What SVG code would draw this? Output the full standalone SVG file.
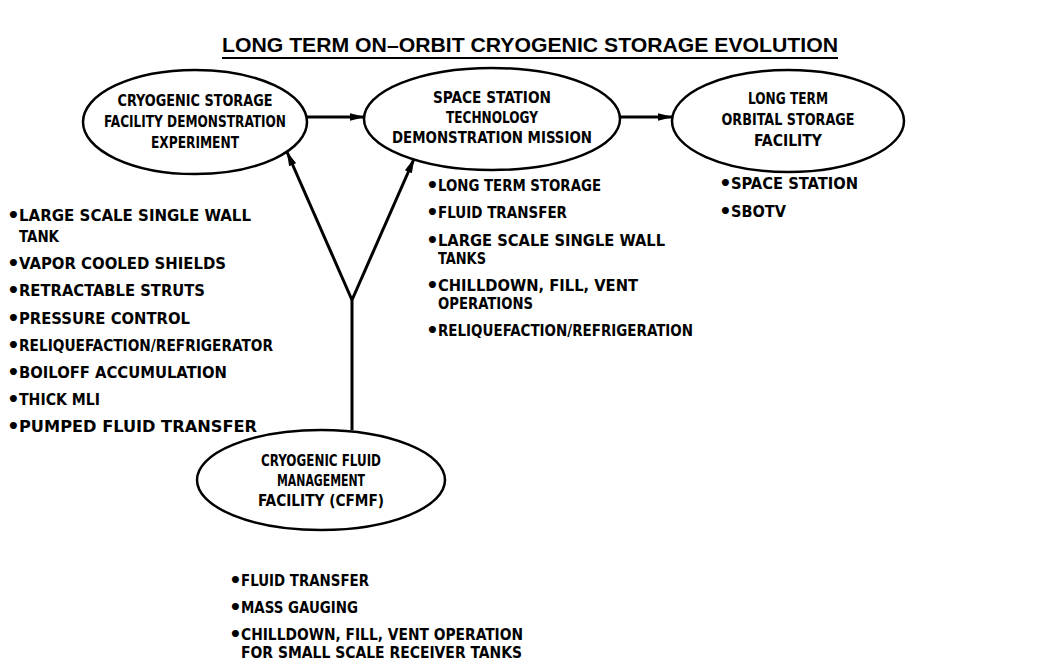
<svg xmlns="http://www.w3.org/2000/svg" width="1063" height="667" viewBox="0 0 1063 667">
  <style>
    .bg { fill: #ffffff; }
    .title { font-family: "Liberation Sans", Arial, sans-serif; font-weight: bold; font-size: 21px; fill: #000; }
    .node ellipse { fill: #ffffff; stroke: #000; stroke-width: 2.5; }
    .lbl { font-family: "DejaVu Sans Condensed", "DejaVu Sans", sans-serif; font-stretch: condensed; font-weight: bold; font-size: 15.5px; fill: #000; }
    .item { font-family: "DejaVu Sans Condensed", "DejaVu Sans", sans-serif; font-stretch: condensed; font-weight: bold; font-size: 16.5px; fill: #000; }
    .bul { font-family: "DejaVu Sans", sans-serif; font-weight: bold; font-size: 20px; fill: #000; }
    .edge { stroke: #000; stroke-width: 3; fill: none; }
  </style>
  <defs>
    <marker id="arrow" viewBox="0 0 15 10" refX="14" refY="5" markerWidth="15" markerHeight="10" markerUnits="userSpaceOnUse" orient="auto">
      <path d="M0,1.2 L15,5 L0,8.8 Z" fill="#000"/>
    </marker>
  </defs>

  <rect class="bg" x="0" y="0" width="1063" height="667"/>

  <!-- heading -->
  <g id="title">
    <text class="title" x="530" y="52" text-anchor="middle" textLength="616" lengthAdjust="spacingAndGlyphs">LONG TERM ON–ORBIT CRYOGENIC STORAGE EVOLUTION</text>
    <line x1="222" y1="58" x2="838" y2="58" stroke="#000" stroke-width="2"/>
  </g>

  <!-- connectors -->
  <g id="connectors">
    <line class="edge" x1="307" y1="117" x2="364" y2="117" marker-end="url(#arrow)"/>
    <line class="edge" x1="620" y1="117" x2="672" y2="117" marker-end="url(#arrow)"/>
    <polyline class="edge" points="352,430 352,300"/>
    <line class="edge" x1="352" y1="300" x2="287" y2="152" marker-end="url(#arrow)"/>
    <line class="edge" x1="352" y1="300" x2="414" y2="159" marker-end="url(#arrow)"/>
  </g>

  <!-- cryogenic storage facility demonstration experiment -->
  <g id="csfde" class="node">
    <ellipse cx="195" cy="122" rx="112" ry="52"/>
    <text class="lbl" x="195" y="106" text-anchor="middle" textLength="155" lengthAdjust="spacingAndGlyphs">CRYOGENIC STORAGE</text>
    <text class="lbl" x="195" y="127" text-anchor="middle" textLength="182" lengthAdjust="spacingAndGlyphs">FACILITY DEMONSTRATION</text>
    <text class="lbl" x="195" y="148" text-anchor="middle" textLength="88" lengthAdjust="spacingAndGlyphs">EXPERIMENT</text>
  </g>

  <!-- space station technology demonstration mission -->
  <g id="sstdm" class="node">
    <ellipse cx="492" cy="119" rx="128" ry="51"/>
    <text class="lbl" x="492" y="103" text-anchor="middle" textLength="118" lengthAdjust="spacingAndGlyphs">SPACE STATION</text>
    <text class="lbl" x="492" y="123" text-anchor="middle" textLength="92" lengthAdjust="spacingAndGlyphs">TECHNOLOGY</text>
    <text class="lbl" x="492" y="143" text-anchor="middle" textLength="200" lengthAdjust="spacingAndGlyphs">DEMONSTRATION MISSION</text>
  </g>

  <!-- long term orbital storage facility -->
  <g id="ltosf" class="node">
    <ellipse cx="788" cy="121" rx="116" ry="51"/>
    <text class="lbl" x="788" y="104" text-anchor="middle" textLength="80" lengthAdjust="spacingAndGlyphs">LONG TERM</text>
    <text class="lbl" x="788" y="125" text-anchor="middle" textLength="133" lengthAdjust="spacingAndGlyphs">ORBITAL STORAGE</text>
    <text class="lbl" x="788" y="146" text-anchor="middle" textLength="68" lengthAdjust="spacingAndGlyphs">FACILITY</text>
  </g>

  <!-- cryogenic fluid management facility -->
  <g id="cfmf" class="node">
    <ellipse cx="321" cy="480" rx="124" ry="50"/>
    <text class="lbl" x="321" y="466" text-anchor="middle" textLength="120" lengthAdjust="spacingAndGlyphs">CRYOGENIC FLUID</text>
    <text class="lbl" x="321" y="486" text-anchor="middle" textLength="88" lengthAdjust="spacingAndGlyphs">MANAGEMENT</text>
    <text class="lbl" x="321" y="506" text-anchor="middle" textLength="126" lengthAdjust="spacingAndGlyphs">FACILITY (CFMF)</text>
  </g>

  <!-- experiment features -->
  <g id="csfde-items">
    <text class="bul" x="7" y="222">•</text>
    <text class="item" x="19" y="221" textLength="232" lengthAdjust="spacingAndGlyphs">LARGE SCALE SINGLE WALL</text>
    <text class="item" x="19" y="242" textLength="40" lengthAdjust="spacingAndGlyphs">TANK</text>
    <text class="bul" x="7" y="270">•</text>
    <text class="item" x="19" y="269" textLength="207" lengthAdjust="spacingAndGlyphs">VAPOR COOLED SHIELDS</text>
    <text class="bul" x="7" y="297">•</text>
    <text class="item" x="19" y="296" textLength="186" lengthAdjust="spacingAndGlyphs">RETRACTABLE STRUTS</text>
    <text class="bul" x="7" y="325">•</text>
    <text class="item" x="19" y="324" textLength="171" lengthAdjust="spacingAndGlyphs">PRESSURE CONTROL</text>
    <text class="bul" x="7" y="352">•</text>
    <text class="item" x="19" y="351" textLength="254" lengthAdjust="spacingAndGlyphs">RELIQUEFACTION/REFRIGERATOR</text>
    <text class="bul" x="7" y="379">•</text>
    <text class="item" x="19" y="378" textLength="208" lengthAdjust="spacingAndGlyphs">BOILOFF ACCUMULATION</text>
    <text class="bul" x="7" y="406">•</text>
    <text class="item" x="19" y="405" textLength="81" lengthAdjust="spacingAndGlyphs">THICK MLI</text>
    <text class="bul" x="7" y="433">•</text>
    <text class="item" x="19" y="432" textLength="238" lengthAdjust="spacingAndGlyphs">PUMPED FLUID TRANSFER</text>
  </g>

  <!-- mission features -->
  <g id="sstdm-items">
    <text class="bul" x="426" y="192">•</text>
    <text class="item" x="438" y="191" textLength="163" lengthAdjust="spacingAndGlyphs">LONG TERM STORAGE</text>
    <text class="bul" x="426" y="219">•</text>
    <text class="item" x="438" y="218" textLength="129" lengthAdjust="spacingAndGlyphs">FLUID TRANSFER</text>
    <text class="bul" x="426" y="247">•</text>
    <text class="item" x="438" y="246" textLength="227" lengthAdjust="spacingAndGlyphs">LARGE SCALE SINGLE WALL</text>
    <text class="item" x="438" y="264" textLength="48" lengthAdjust="spacingAndGlyphs">TANKS</text>
    <text class="bul" x="426" y="292">•</text>
    <text class="item" x="438" y="291" textLength="200" lengthAdjust="spacingAndGlyphs">CHILLDOWN, FILL, VENT</text>
    <text class="item" x="438" y="309" textLength="95" lengthAdjust="spacingAndGlyphs">OPERATIONS</text>
    <text class="bul" x="426" y="337">•</text>
    <text class="item" x="438" y="336" textLength="255" lengthAdjust="spacingAndGlyphs">RELIQUEFACTION/REFRIGERATION</text>
  </g>

  <!-- storage facility users -->
  <g id="ltosf-items">
    <text class="bul" x="719" y="190">•</text>
    <text class="item" x="731" y="189" textLength="127" lengthAdjust="spacingAndGlyphs">SPACE STATION</text>
    <text class="bul" x="719" y="218">•</text>
    <text class="item" x="731" y="217" textLength="55" lengthAdjust="spacingAndGlyphs">SBOTV</text>
  </g>

  <!-- management facility features -->
  <g id="cfmf-items">
    <text class="bul" x="229" y="587">•</text>
    <text class="item" x="241" y="586" textLength="128" lengthAdjust="spacingAndGlyphs">FLUID TRANSFER</text>
    <text class="bul" x="229" y="614">•</text>
    <text class="item" x="241" y="613" textLength="117" lengthAdjust="spacingAndGlyphs">MASS GAUGING</text>
    <text class="bul" x="229" y="641">•</text>
    <text class="item" x="241" y="640" textLength="282" lengthAdjust="spacingAndGlyphs">CHILLDOWN, FILL, VENT OPERATION</text>
    <text class="item" x="241" y="658" textLength="281" lengthAdjust="spacingAndGlyphs">FOR SMALL SCALE RECEIVER TANKS</text>
  </g>
</svg>
